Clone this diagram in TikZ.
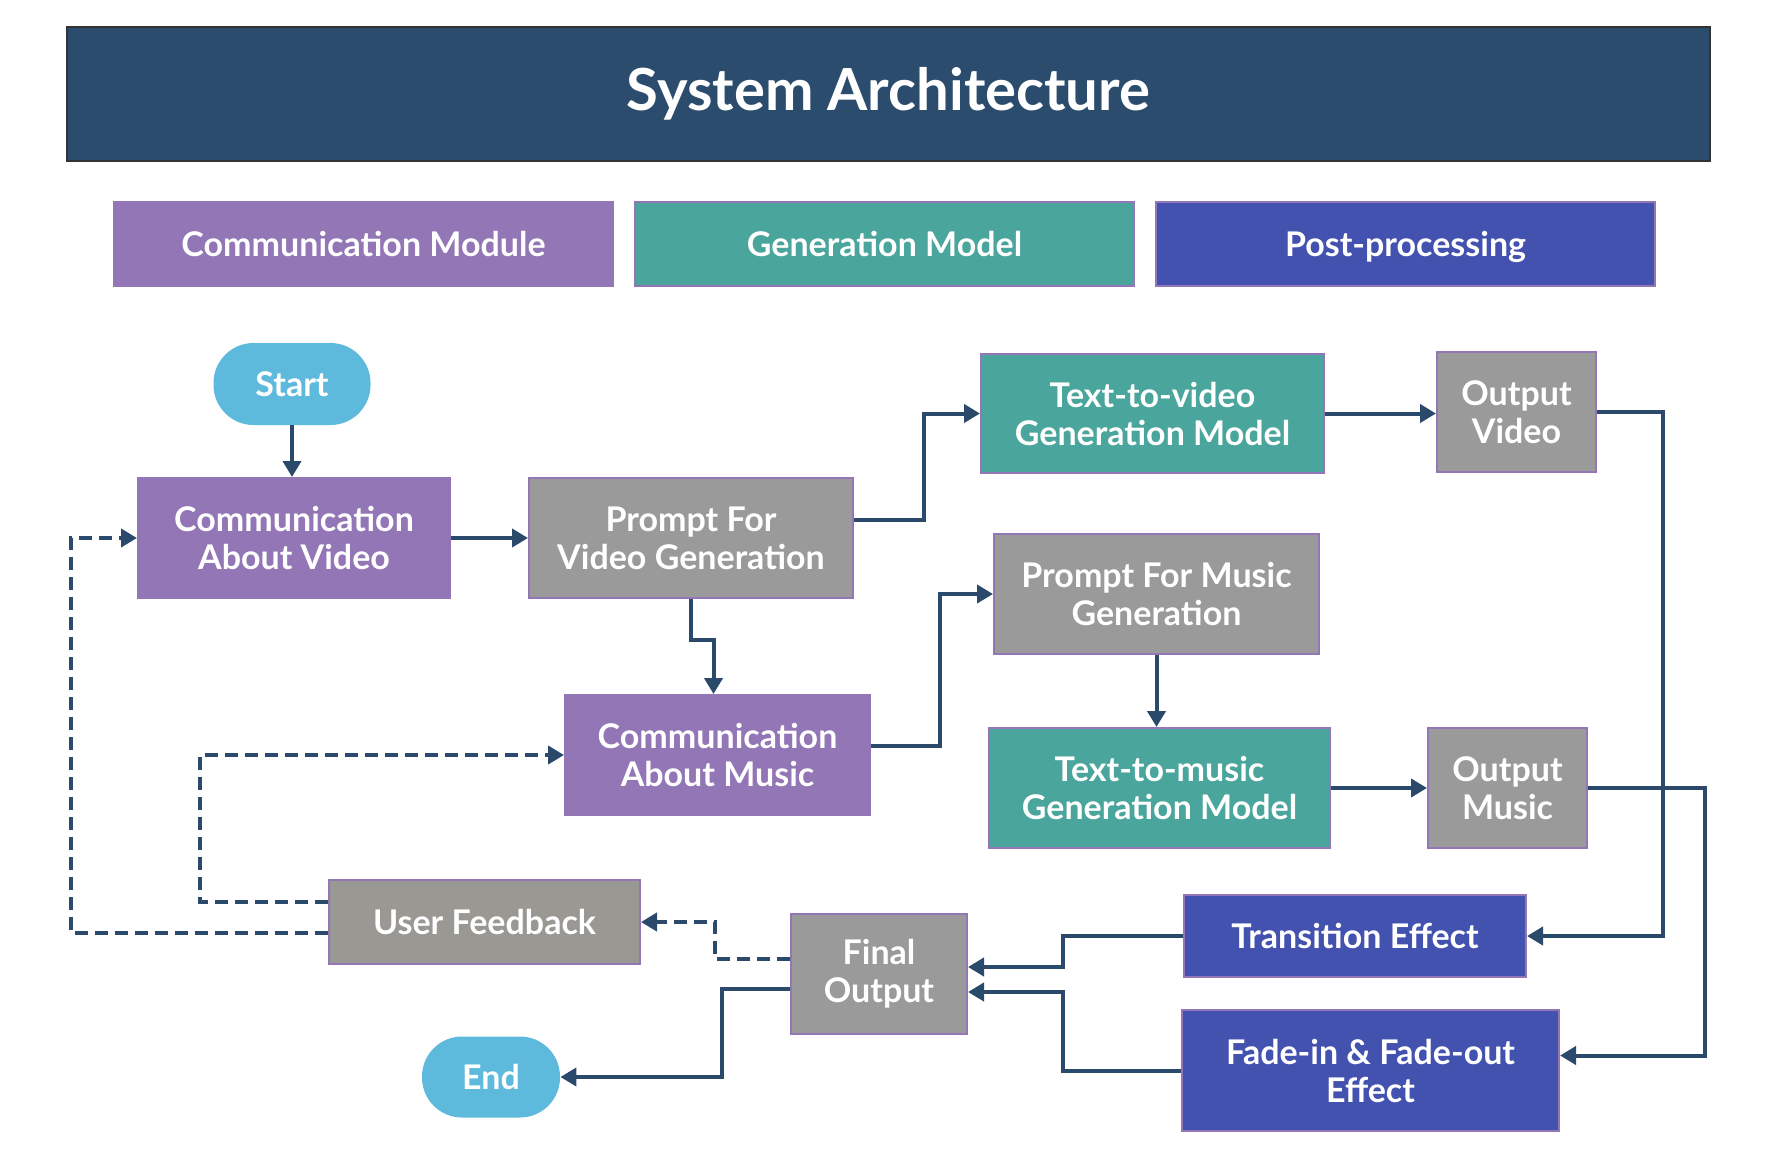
\documentclass[tikz,border=0pt]{standalone}
\usepackage{fontspec}
\setmainfont{Lato}
\usetikzlibrary{arrows.meta}

\definecolor{headblue}{HTML}{2C4C6E}
\definecolor{commpurple}{HTML}{9376B6}
\definecolor{genteal}{HTML}{4AA69C}
\definecolor{postindigo}{HTML}{4452AF}
\definecolor{promptgray}{HTML}{9A9A9A}
\definecolor{feedgray}{HTML}{9A9892}
\definecolor{termcyan}{HTML}{5EBADC}
\definecolor{linkblue}{HTML}{2B4A6B}

\begin{document}
\begin{tikzpicture}[x=0.5pt, y=-0.5pt, >={Triangle[length=8pt,width=9pt]}]
\tikzset{
  Box/.style = {rectangle, draw=commpurple, line width=1pt, text=white,
                font=\fontsize{17}{19}\selectfont\bfseries, align=center,
                inner sep=2pt},
  CommStyle/.style = {Box, fill=commpurple},
  GenStyle/.style = {Box, fill=genteal},
  PostStyle/.style = {Box, fill=postindigo},
  PromptStyle/.style = {Box, fill=promptgray},
  TermStyle/.style = {rectangle, rounded corners=20pt, fill=termcyan, text=white,
                      font=\fontsize{17}{19}\selectfont\bfseries},
  Flow/.style = {->, draw=linkblue, line width=2pt},
  Back/.style = {Flow, dash pattern=on 6.5pt off 3.5pt}
}
\useasboundingbox (0,0) rectangle (1780,1156);

% header and legend
\node[rectangle, draw=black!80, line width=1pt, fill=headblue, text=white,
      minimum width=821.5pt, minimum height=67pt,
      font=\fontsize{29}{32}\selectfont\bfseries] (title) at (888.5,94) {System Architecture};
\node[CommStyle, minimum width=249.5pt, minimum height=42pt] (legcomm) at (363.5,244) {Communication Module};
\node[GenStyle, minimum width=249.5pt, minimum height=42pt] (leggen) at (884.5,244) {Generation Model};
\node[PostStyle, minimum width=249.5pt, minimum height=42pt, text depth=0pt] (legpost) at (1405.5,244) {Post-processing};

% flow nodes
\node[TermStyle, minimum width=78.5pt, minimum height=41pt] (start) at (292,384) {Start};
\node[CommStyle, minimum width=156pt, minimum height=60pt] (cvideo) at (294,538) {Communication\\About Video};
\node[PromptStyle, minimum width=162pt, minimum height=60pt] (pvideo) at (691,538) {Prompt For\\Video Generation};
\node[GenStyle, minimum width=171.5pt, minimum height=59.5pt] (t2v) at (1152.5,413.5) {Text-to-video\\Generation Model};
\node[PromptStyle, minimum width=79.5pt, minimum height=60pt] (ovideo) at (1516.5,412) {Output\\Video};
\node[PromptStyle, minimum width=162.5pt, minimum height=60pt] (pmusic) at (1156.5,594) {Prompt For Music\\Generation};
\node[CommStyle, minimum width=152.5pt, minimum height=60pt] (cmusic) at (717.5,755) {Communication\\About Music};
\node[GenStyle, minimum width=170.5pt, minimum height=60pt] (t2m) at (1159.5,788) {Text-to-music\\Generation Model};
\node[PromptStyle, minimum width=79.5pt, minimum height=60pt] (omusic) at (1507.5,788) {Output\\Music};
\node[PromptStyle, fill=feedgray, minimum width=155.5pt, minimum height=42pt] (feedback) at (484.5,922) {User Feedback};
\node[PromptStyle, minimum width=88pt, minimum height=60pt] (final) at (879,974) {Final\\Output};
\node[PostStyle, minimum width=171pt, minimum height=41pt] (trans) at (1355,936) {Transition Effect};
\node[PostStyle, minimum width=188.5pt, minimum height=60.5pt] (fade) at (1370.5,1070.5) {Fade-in \& Fade-out\\Effect};
\node[TermStyle, minimum width=69pt, minimum height=40.5pt] (end) at (491,1077) {End};

% forward links
\draw[Flow] (start) -- (start |- cvideo.north);
\draw[Flow] (cvideo) -- (pvideo);
\draw[Flow] ([yshift=9pt]pvideo.east) -- ++(35pt,0) |- (t2v.west);
\draw[Flow] (pvideo.south) -- ++(0,-20.5pt) -| ([xshift=-2pt]cmusic.north);
\draw[Flow] ([yshift=4.5pt]cmusic.east) -- ++(34.5pt,0) |- (pmusic.west);
\draw[Flow] (pmusic.south) -- (pmusic.south |- t2m.north);
%-----------------------------
\draw[Flow] (t2v.east) -- (t2v.east -| ovideo.west);
\draw[Flow] (t2m) -- (omusic);
\draw[Flow] (ovideo.east) -- ++(33pt,0) |- (trans.east);
\draw[Flow] (omusic.east) -- ++(58.5pt,0) |- ([yshift=7.5pt]fade.east);
%-----------------------------
\draw[Flow] (trans.west) -- ++(-60pt,0) |- ([yshift=3.5pt]final.east);
\draw[Flow] (fade.west) -- ++(-59pt,0) |- ([yshift=-9pt]final.east);
\draw[Flow] ([yshift=-7.5pt]final.west) -- ++(-34pt,0) |- (end.east);

% feedback loops
\draw[Back] ([yshift=7.5pt]final.west) -- ++(-37.5pt,0) |- (feedback.east);
\draw[Back] ([yshift=-5.5pt]feedback.west) -- ++(-128.5pt,0) |- (cvideo.west);
\draw[Back] ([yshift=10pt]feedback.west) -- ++(-64pt,0) |- (cmusic.west);

\end{tikzpicture}
\end{document}
